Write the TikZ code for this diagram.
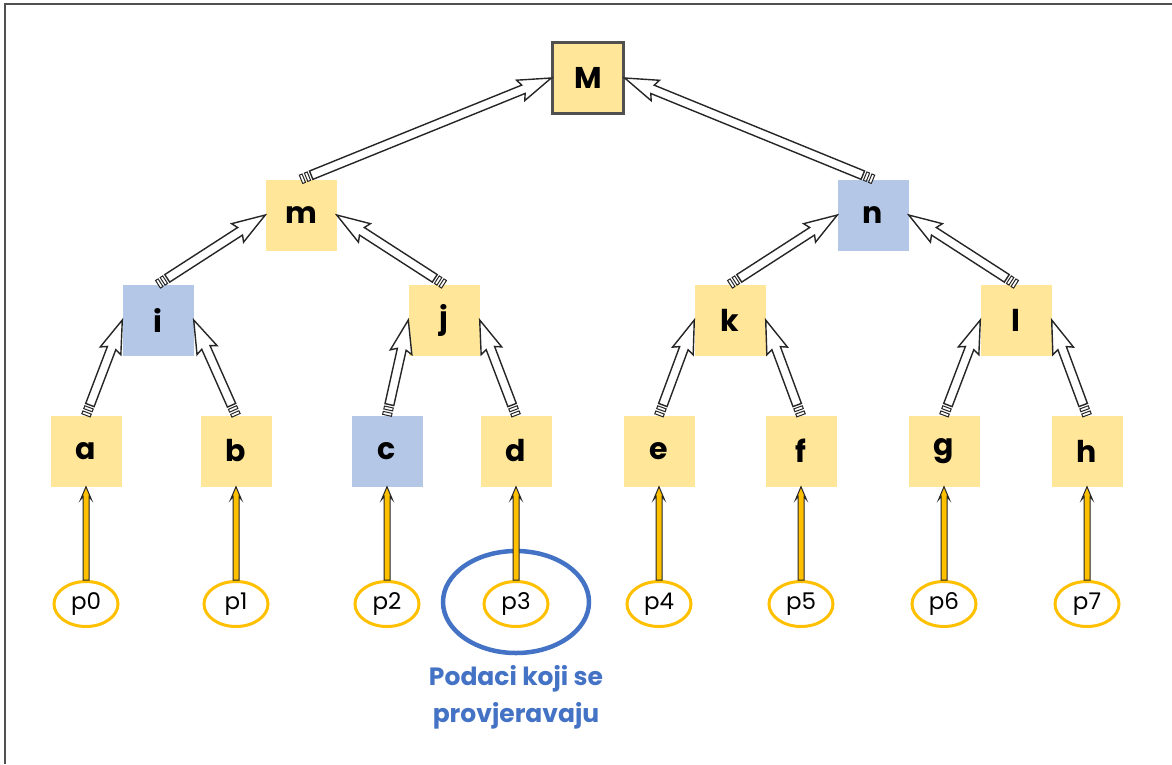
\documentclass[tikz,border=0pt]{standalone}
\usepackage{fontspec}
\setmainfont{Poppins}
\usetikzlibrary{calc,shapes.geometric}
\definecolor{boxy}{HTML}{FFE699}
\definecolor{boxb}{HTML}{B4C7E7}
\definecolor{gold}{HTML}{FFC000}
\definecolor{lblue}{HTML}{4472C4}
\definecolor{frm}{HTML}{505050}
\tikzset{
  tbox/.style={minimum width=71pt,minimum height=71pt,inner sep=0pt,font=\fontsize{30}{34}\selectfont\bfseries},
  ybox/.style={tbox,fill=boxy},
  bbox/.style={tbox,fill=boxb},
  topbox/.style={ybox,draw=frm,line width=2.5pt},
  pell/.style={ellipse,draw=gold,line width=3pt,fill=white,minimum width=64pt,minimum height=45pt,inner sep=0pt,font=\fontsize{23}{26}\selectfont},
  bigell/.style={ellipse,draw=lblue,line width=4.5pt,minimum width=146pt,minimum height=102pt},
  harrow/.style={draw=black!85,line width=1.4pt,fill=white,line join=miter},
  yarrow/.style={draw=black!85,line width=1pt,fill=gold,line join=miter},
  lbl/.style={text=lblue,font=\fontsize{25}{37}\selectfont\bfseries,align=center}
}
% #1 style, #2 start, #3 end, #4 shaft half width, #5 head half width, #6 head length, #7 tail offset
\newcommand\polyarr[7]{%
  \path (#2) coordinate (S) (#3) coordinate (E);
  \path ($(E)!#6!(S)$) coordinate (H);
  \path ($(E)!#6+3pt!(S)$) coordinate (HB);
  \path ($(S)!#7!(E)$) coordinate (T);
  \draw[#1] ($(T)!#4!90:(E)$) -- ($(H)!#4!90:(E)$) -- ($(HB)!#5!90:(E)$) -- (E)
     -- ($(HB)!#5!-90:(E)$) -- ($(H)!#4!-90:(E)$) -- ($(T)!#4!-90:(E)$) -- cycle;
}
\newcommand\stripearr[2]{%
  \polyarr{harrow}{#1}{#2}{4.5pt}{11pt}{30pt}{11pt}%
  \path ($(S)!3pt!(E)$) coordinate (Q1) ($(S)!5.5pt!(E)$) coordinate (Q2) ($(S)!8.5pt!(E)$) coordinate (Q3);
  \draw[harrow,line width=1pt] ($(S)!4.5pt!90:(E)$) -- ($(Q1)!4.5pt!90:(E)$) -- ($(Q1)!4.5pt!-90:(E)$) -- ($(S)!4.5pt!-90:(E)$) -- cycle;
  \draw[harrow,line width=1pt] ($(Q2)!4.5pt!90:(E)$) -- ($(Q3)!4.5pt!90:(E)$) -- ($(Q3)!4.5pt!-90:(E)$) -- ($(Q2)!4.5pt!-90:(E)$) -- cycle;
}
\newcommand\goldarr[2]{\polyarr{yarrow}{#1}{#2}{3pt}{5.5pt}{10pt}{0pt}}
\begin{document}
\begin{tikzpicture}[x=1pt,y=-1pt]
\useasboundingbox (0,0) rectangle (1172,764);
\fill[white] (0,0) rectangle (1172,764);
\draw[frm,line width=2pt] (5,764) coordinate (fl) -- (5,4) coordinate (fc) -- (1172,4) coordinate (fr);
% nodes
\node[topbox] (M) at (588,78) {M};
\node[ybox] (m) at (301,215) {m};
\node[bbox] (n) at (873,215) {n};
\node[bbox] (i) at (158,320) {i};
\node[ybox] (j) at (444,320) {j};
\node[ybox] (k) at (730,320) {k};
\node[ybox] (l) at (1016,320) {l};
\node[ybox] (a) at (86,451) {a};
\node[ybox] (b) at (236,451) {b};
\node[bbox] (c) at (387,451) {c};
\node[ybox] (d) at (516,451) {d};
\node[ybox] (e) at (659,451) {e};
\node[ybox] (f) at (801,451) {f};
\node[ybox] (g) at (944,451) {g};
\node[ybox] (h) at (1087,451) {h};
\node[bigell] (big) at (516,602) {};
\node[pell] (p0) at (86,604) {p0};
\node[pell] (p1) at (236,604) {p1};
\node[pell] (p2) at (387,604) {p2};
\node[pell] (p3) at (516,604) {p3};
\node[pell] (p4) at (659,604) {p4};
\node[pell] (p5) at (801,604) {p5};
\node[pell] (p6) at (944,604) {p6};
\node[pell] (p7) at (1087,604) {p7};
\node[lbl] (lab) at (516,697) {Podaci koji se\\provjeravaju};
% hollow striped arrows
\stripearr{m.north}{M.west}
\stripearr{n.north}{M.east}
\stripearr{i.north}{m.west}
\stripearr{j.north}{m.east}
\stripearr{k.north}{n.west}
\stripearr{l.north}{n.east}
\stripearr{a.north}{i.west}
\stripearr{b.north}{i.east}
\stripearr{c.north}{j.west}
\stripearr{d.north}{j.east}
\stripearr{e.north}{k.west}
\stripearr{f.north}{k.east}
\stripearr{g.north}{l.west}
\stripearr{h.north}{l.east}
% gold arrows
\goldarr{p0.north}{a.south}
\goldarr{p1.north}{b.south}
\goldarr{p2.north}{c.south}
\goldarr{p3.north}{d.south}
\goldarr{p4.north}{e.south}
\goldarr{p5.north}{f.south}
\goldarr{p6.north}{g.south}
\goldarr{p7.north}{h.south}
\end{tikzpicture}
\end{document}
